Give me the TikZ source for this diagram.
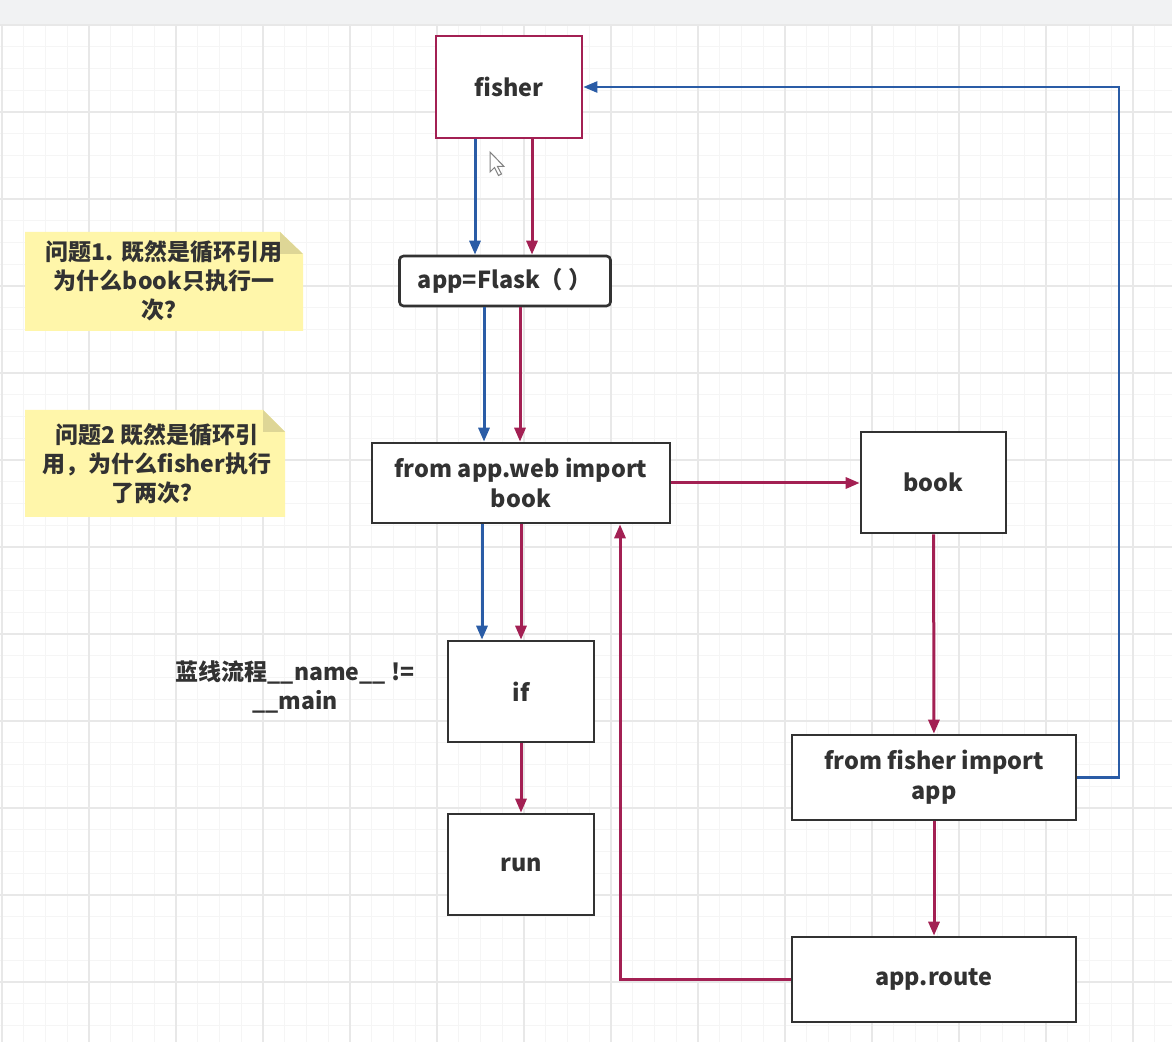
\documentclass[tikz,border=0pt]{standalone}
\usepackage{fontspec}
\setmainfont{Noto Sans CJK SC}
\usetikzlibrary{arrows.meta}
\definecolor{redln}{RGB}{163,32,83}
\definecolor{blueln}{RGB}{42,92,166}
\definecolor{notefill}{RGB}{255,246,170}
\definecolor{notefold}{RGB}{222,214,150}
\definecolor{boxln}{RGB}{50,50,50}
\definecolor{txt}{RGB}{50,50,50}
\definecolor{topbar}{RGB}{241,242,243}
\definecolor{gridlo}{RGB}{245,245,245}
\definecolor{gridhi}{RGB}{232,232,232}
\tikzset{
	box/.style={draw=boxln,line width=1.3pt,fill=white,inner sep=0pt,align=center,text=txt,font=\bfseries\fontsize{11.7}{15}\selectfont},
	redline/.style={draw=redln,line width=1.5pt,-{Triangle[length=7pt,width=5.5pt]}},
	blueline/.style={draw=blueln,line width=1.5pt,-{Triangle[length=7pt,width=5.5pt]}},
	notetext/.style={align=center,text=txt,font=\bfseries\fontsize{11.5}{14.5}\selectfont},
	gridminor/.style={draw=gridlo,line width=0.4pt},
	gridmajor/.style={draw=gridhi,line width=0.6pt}
}
\begin{document}
\begin{tikzpicture}[x=0.5pt,y=-0.5pt]
	\useasboundingbox (0,0) rectangle (1172,1042);
	% background and grid
	\fill[white] (0,0) rectangle (1172,1042);
	\fill[topbar] (0,0) rectangle (1172,25);
	\foreach \k in {0,...,53} \draw[gridminor] ({2+21.75*\k},25) -- ({2+21.75*\k},1042);
	\foreach \k in {0,...,46} \draw[gridminor] (0,{25+21.75*\k}) -- (1172,{25+21.75*\k});
	\foreach \k in {0,...,13} \draw[gridmajor] ({2+87*\k},25) -- ({2+87*\k},1042);
	\foreach \k in {0,...,11} \draw[gridmajor] (0,{25+87*\k}) -- (1172,{25+87*\k});

	% notes
	\fill[notefill] (25,232) -- (280,232) -- (303,254) -- (303,331) -- (25,331) -- cycle;
	\fill[notefold] (280,232) -- (303,254) -- (280,254) -- cycle;
	\node[notetext] (q1) at (164,281) {问题1. 既然是循环引用\\为什么book只执行一\\次？};
	\fill[notefill] (25,410) -- (263,410) -- (285,432) -- (285,517) -- (25,517) -- cycle;
	\fill[notefold] (263,410) -- (285,432) -- (263,432) -- cycle;
	\node[notetext] (q2) at (157,464) {问题2 既然是循环引\\用，为什么fisher执行\\了两次？};
	\node[notetext] (blue) at (295,687) {蓝线流程\_\_name\_\_ !=\\\_\_main};

	% boxes
	\node[box,draw=redln,minimum width=73pt,minimum height=51pt] (fisher) at (509,87) {fisher};
	\node[box,rounded corners=2pt,minimum width=105.5pt,minimum height=25pt] (app) at (505,281) {app=Flask（ ）};
	\node[box,minimum width=149pt,minimum height=40pt] (web) at (521,483) {from app.web import\\book};
	\node[box,minimum width=72.5pt,minimum height=50.5pt] (book) at (933.5,482.5) {book};
	\node[box,minimum width=73pt,minimum height=50.5pt] (if) at (521,691.5) {if};
	\node[box,minimum width=73pt,minimum height=50.5pt] (run) at (521,864.5) {run};
	\node[box,minimum width=142pt,minimum height=42.5pt] (fimp) at (934,777.5) {from fisher import\\app};
	\node[box,minimum width=142pt,minimum height=42.5pt] (route) at (934,979.5) {app.route};
	\coordinate (turn) at (1119,0);

	% connectors
	\draw[blueline] ([xshift=-17pt]fisher.south) -- ([xshift=-17pt]fisher.south |- app.north);
	\draw[redline] ([xshift=11.5pt]fisher.south) -- ([xshift=11.5pt]fisher.south |- app.north);
	\draw[blueline] ([xshift=-10.5pt]app.south) -- ([xshift=-10.5pt]app.south |- web.north);
	\draw[redline] ([xshift=7.5pt]app.south) -- ([xshift=7.5pt]app.south |- web.north);
	\draw[blueline] ([xshift=-19.5pt]web.south) -- ([xshift=-19.5pt]web.south |- if.north);
	\draw[redline] (web.south) -- (if.north);
	\draw[redline] (if) -- (run);
	\draw[redline] (web.east) -- (web.east -| book.west);
	\draw[redline] (book) -- (fimp);
	\draw[redline] (fimp) -- (route);
	\draw[redline] (route.west) -| ([xshift=49.5pt]web.south);
	\draw[blueline,line width=1.2pt] (fimp.east) -- (fimp.east -| turn) |- (fisher.east);

	% mouse pointer
	\draw[fill=white,draw=gray,line width=0.5pt] (490,152) -- ++(0,20) -- ++(4.5,-4.5) -- ++(4,8) -- ++(3,-1.5) -- ++(-4,-7.5) -- ++(6.5,0) -- cycle;
\end{tikzpicture}
\end{document}
